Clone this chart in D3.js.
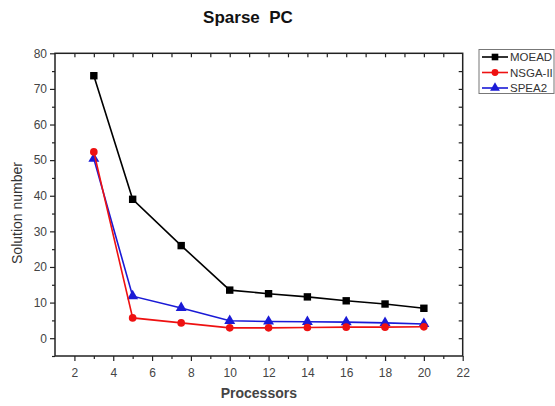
<!DOCTYPE html>
<html>
<head>
<meta charset="utf-8">
<script src="https://cdn.jsdelivr.net/npm/d3@7"></script>
<style>
  body { margin: 0; background: #fff; }
  svg text { font-family: Arial, "Liberation Sans", sans-serif; }
</style>
</head>
<body>
<div id="chart"></div>
<script>
// processors (x values)
var processors = [3, 5, 7.5, 10, 12, 14, 16, 18, 20];
// solution numbers per algorithm
var moead = [73.7, 39, 26, 13.5, 12.5, 11.6, 10.5, 9.6, 8.4];
var nsga2 = [52.3, 5.7, 4.3, 2.9, 2.9, 3.0, 3.1, 3.1, 3.2];
var spea2 = [50.4, 11.8, 8.5, 4.9, 4.7, 4.6, 4.5, 4.3, 4.0];
var seriesNames = ["MOEAD", "NSGA-II", "SPEA2"];
var xTicks = [2, 4, 6, 8, 10, 12, 14, 16, 18, 20, 22];
var yTicks = [0, 10, 20, 30, 40, 50, 60, 70, 80];

function init(){
    var w = 555, h = 406;
    var left = 55, right = 462.7, top = 53.3, bottom = 356;

    var svg = d3.select('#chart').append('svg')
        .attr('width', w).attr('height', h);

    var x = d3.scaleLinear().domain([1, 22]).range([left, right]);
    var y = d3.scaleLinear().domain([-5, 80]).range([bottom, top]);

    var axisColor = '#222';

    // bottom axis, major + minor ticks
    var gx = svg.append('g').attr('transform', 'translate(0,' + bottom + ')')
        .call(d3.axisBottom(x).tickValues(xTicks).tickSize(5).tickSizeOuter(0));
    svg.append('g').attr('transform', 'translate(0,' + bottom + ')')
        .call(d3.axisBottom(x).tickValues(d3.range(3, 22, 2)).tickSize(3).tickFormat('').tickSizeOuter(0));

    // left axis
    var gy = svg.append('g').attr('transform', 'translate(' + left + ',0)')
        .call(d3.axisLeft(y).tickValues(yTicks).tickSize(5).tickSizeOuter(0));
    svg.append('g').attr('transform', 'translate(' + left + ',0)')
        .call(d3.axisLeft(y).tickValues([-5, 5, 15, 25, 35, 45, 55, 65, 75]).tickSize(3).tickFormat('').tickSizeOuter(0));

    // mirror axes, ticks inward
    svg.append('g').attr('transform', 'translate(0,' + top + ')')
        .call(d3.axisBottom(x).tickValues(d3.range(2, 22, 1)).tickSize(4).tickFormat('').tickSizeOuter(0));
    svg.append('g').attr('transform', 'translate(' + right + ',0)')
        .call(d3.axisLeft(y).tickValues(d3.range(0, 80, 5)).tickSize(4).tickFormat('').tickSizeOuter(0));

    // frame
    svg.append('rect')
        .attr('x', left).attr('y', top)
        .attr('width', right - left).attr('height', bottom - top)
        .attr('fill', 'none').attr('stroke', axisColor).attr('stroke-width', 1.5);

    svg.selectAll('.domain').remove();
    svg.selectAll('.tick line').attr('stroke', axisColor).attr('stroke-width', 1.2);
    svg.selectAll('.tick text').attr('fill', '#444').attr('font-size', 12);
    gx.selectAll('.tick text').attr('dy', '1.05em');

    // series
    var series = [
        {name: seriesNames[0], values: moead, color: '#000000', shape: d3.symbolSquare, size: 55},
        {name: seriesNames[1], values: nsga2, color: '#ee1111', shape: d3.symbolCircle, size: 46},
        {name: seriesNames[2], values: spea2, color: '#1a1ad6', shape: d3.symbolTriangle, size: 52}
    ];

    var line = d3.line()
        .x(function(d){ return x(d[0]); })
        .y(function(d){ return y(d[1]); });

    // draw in reverse so black stays on top like the original
    series.slice().reverse().forEach(function(s){
        var pts = processors.map(function(p, i){ return [p, s.values[i]]; });
        svg.append('path').datum(pts)
            .attr('d', line)
            .attr('fill', 'none')
            .attr('stroke', s.color)
            .attr('stroke-width', 1.6);
        svg.selectAll(null).data(pts).enter().append('path')
            .attr('d', d3.symbol().type(s.shape).size(s.size))
            .attr('transform', function(d){ return 'translate(' + x(d[0]) + ',' + y(d[1]) + ')'; })
            .attr('fill', s.color);
    });

    // title
    svg.append('text')
        .attr('x', 248).attr('y', 23)
        .attr('text-anchor', 'middle')
        .attr('font-size', 17).attr('font-weight', 'bold')
        .attr('fill', '#111')
        .style('white-space', 'pre')
        .text('Sparse  PC');

    // axis labels
    svg.append('text')
        .attr('x', (left + right) / 2).attr('y', 398)
        .attr('text-anchor', 'middle')
        .attr('font-size', 14).attr('font-weight', 'bold')
        .attr('fill', '#444')
        .text('Processors');

    svg.append('text')
        .attr('transform', 'translate(22,213) rotate(-90)')
        .attr('text-anchor', 'middle')
        .attr('font-size', 14)
        .attr('fill', '#333')
        .text('Solution number');

    // legend
    var lg = svg.append('g');
    lg.append('rect')
        .attr('x', 479).attr('y', 49.5)
        .attr('width', 75).attr('height', 44)
        .attr('fill', '#fff').attr('stroke', '#777').attr('stroke-width', 1);
    series.forEach(function(s, i){
        var ly = 57 + i * 15.5;
        lg.append('line')
            .attr('x1', 482).attr('x2', 508)
            .attr('y1', ly).attr('y2', ly)
            .attr('stroke', s.color).attr('stroke-width', 1.6);
        lg.append('path')
            .attr('d', d3.symbol().type(s.shape).size(s.size * 0.8))
            .attr('transform', 'translate(495,' + ly + ')')
            .attr('fill', s.color);
        lg.append('text')
            .attr('x', 510).attr('y', ly + 4)
            .attr('font-size', 11.5)
            .attr('fill', '#333')
            .text(s.name);
    });
}

window.onload = init;
</script>
</body>
</html>
